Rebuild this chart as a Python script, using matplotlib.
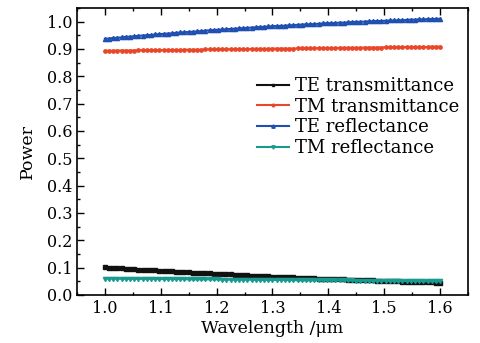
import numpy as np
import matplotlib
matplotlib.use('Agg')
import matplotlib.pyplot as plt
from matplotlib.ticker import MultipleLocator

plt.rcParams['font.family'] = 'DejaVu Serif'
plt.rcParams['mathtext.fontset'] = 'dejavuserif'

# wavelength grid (um), 81 samples between 1.0 and 1.6
wavelength = np.linspace(1.0, 1.6, 81)

te_reflectance = [
    0.937, 0.938, 0.940, 0.941, 0.942, 0.944, 0.945, 0.946, 0.948, 0.949,
    0.950, 0.951, 0.953, 0.954, 0.955, 0.956, 0.957, 0.959, 0.960, 0.961,
    0.962, 0.963, 0.964, 0.965, 0.967, 0.968, 0.969, 0.970, 0.971, 0.972,
    0.973, 0.974, 0.975, 0.976, 0.977, 0.978, 0.979, 0.980, 0.981, 0.982,
    0.983, 0.984, 0.984, 0.985, 0.986, 0.987, 0.988, 0.989, 0.990, 0.990,
    0.991, 0.992, 0.993, 0.994, 0.994, 0.995, 0.996, 0.996, 0.997, 0.998,
    0.999, 0.999, 1.000, 1.001, 1.001, 1.002, 1.002, 1.003, 1.004, 1.004,
    1.005, 1.005, 1.006, 1.007, 1.007, 1.008, 1.008, 1.009, 1.009, 1.010,
    1.010,
]
tm_transmittance = [
    0.893, 0.893, 0.893, 0.894, 0.894, 0.894, 0.894, 0.894, 0.895, 0.895,
    0.895, 0.895, 0.895, 0.895, 0.896, 0.896, 0.896, 0.896, 0.896, 0.897,
    0.897, 0.897, 0.897, 0.897, 0.898, 0.898, 0.898, 0.898, 0.898, 0.898,
    0.899, 0.899, 0.899, 0.899, 0.899, 0.900, 0.900, 0.900, 0.900, 0.900,
    0.901, 0.901, 0.901, 0.901, 0.901, 0.901, 0.902, 0.902, 0.902, 0.902,
    0.902, 0.903, 0.903, 0.903, 0.903, 0.903, 0.904, 0.904, 0.904, 0.904,
    0.904, 0.904, 0.905, 0.905, 0.905, 0.905, 0.905, 0.906, 0.906, 0.906,
    0.906, 0.906, 0.907, 0.907, 0.907, 0.907, 0.907, 0.907, 0.908, 0.908,
    0.908,
]
te_transmittance = [
    0.101, 0.100, 0.099, 0.098, 0.097, 0.096, 0.095, 0.094, 0.093, 0.092,
    0.092, 0.091, 0.090, 0.089, 0.088, 0.087, 0.086, 0.085, 0.084, 0.084,
    0.083, 0.082, 0.081, 0.080, 0.080, 0.079, 0.078, 0.077, 0.076, 0.076,
    0.075, 0.074, 0.073, 0.072, 0.072, 0.071, 0.070, 0.070, 0.069, 0.068,
    0.067, 0.067, 0.066, 0.065, 0.065, 0.064, 0.063, 0.063, 0.062, 0.061,
    0.061, 0.060, 0.060, 0.059, 0.058, 0.058, 0.057, 0.057, 0.056, 0.055,
    0.055, 0.054, 0.054, 0.053, 0.053, 0.052, 0.052, 0.051, 0.051, 0.050,
    0.050, 0.049, 0.049, 0.048, 0.048, 0.047, 0.047, 0.046, 0.046, 0.045,
    0.045,
]
tm_reflectance = [
    0.060, 0.060, 0.060, 0.060, 0.059, 0.059, 0.059, 0.059, 0.059, 0.059,
    0.059, 0.059, 0.058, 0.058, 0.058, 0.058, 0.058, 0.058, 0.058, 0.058,
    0.057, 0.057, 0.057, 0.057, 0.057, 0.057, 0.057, 0.057, 0.056, 0.056,
    0.056, 0.056, 0.056, 0.056, 0.056, 0.056, 0.055, 0.055, 0.055, 0.055,
    0.055, 0.055, 0.055, 0.055, 0.054, 0.054, 0.054, 0.054, 0.054, 0.054,
    0.054, 0.054, 0.053, 0.053, 0.053, 0.053, 0.053, 0.053, 0.053, 0.053,
    0.052, 0.052, 0.052, 0.052, 0.052, 0.052, 0.052, 0.052, 0.051, 0.051,
    0.051, 0.051, 0.051, 0.051, 0.051, 0.051, 0.050, 0.050, 0.050, 0.050,
    0.050,
]

fig = plt.figure(figsize=(4.81, 3.43), dpi=100)
ax = fig.add_axes([0.160, 0.140, 0.813, 0.837])

ax.plot(wavelength, te_transmittance, color='#111111', lw=1.5, marker='s', ms=2.2,
        label='TE transmittance')
ax.plot(wavelength, tm_transmittance, color='#ea4628', lw=1.5, marker='o', ms=2.4,
        label='TM transmittance')
ax.plot(wavelength, te_reflectance, color='#1f4fb0', lw=1.5, marker='^', ms=3.0,
        label='TE reflectance')
ax.plot(wavelength, tm_reflectance, color='#199a8e', lw=1.5, marker='v', ms=3.0,
        label='TM reflectance')

ax.set_xlim(0.95, 1.65)
ax.set_ylim(0.0, 1.05)
ax.xaxis.set_major_locator(MultipleLocator(0.1))
ax.xaxis.set_minor_locator(MultipleLocator(0.05))
ax.yaxis.set_major_locator(MultipleLocator(0.1))
ax.yaxis.set_minor_locator(MultipleLocator(0.05))
ax.tick_params(which='both', direction='in', top=True, right=False, labelsize=11.5)
ax.tick_params(which='major', length=5, width=1)
ax.tick_params(which='minor', length=2.5, width=1)
for s in ax.spines.values():
    s.set_linewidth(1.2)

ax.set_xlabel('Wavelength /μm', fontsize=12.5, labelpad=2)
ax.set_ylabel('Power', fontsize=12.5, labelpad=8)

leg = ax.legend(loc='upper right', bbox_to_anchor=(0.995, 0.785), frameon=False,
                fontsize=13, handlelength=1.8, handletextpad=0.3, labelspacing=0.15,
                borderaxespad=0, markerscale=0.8)

fig.savefig('out.png', dpi=100)
